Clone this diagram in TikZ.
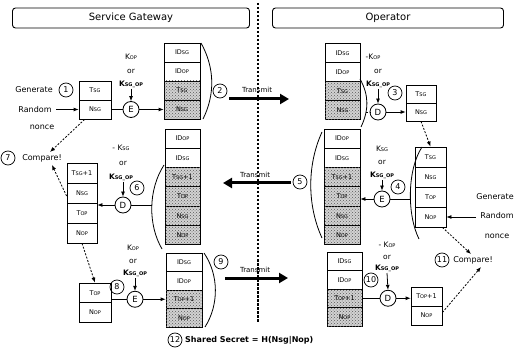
\documentclass[tikz,border=0pt]{standalone}
\usepackage{fontspec}
\setmainfont{DejaVu Sans}
\usetikzlibrary{arrows.meta,patterns}
\newcommand{\sk}[1]{{\fontsize{5}{5}\selectfont #1}}
\tikzset{
  cell/.style={draw, line width=0.8pt, inner sep=0pt, font=\fontsize{6.5}{7}\selectfont},
  hcell/.style={cell, fill=gray!35, postaction={pattern=crosshatch dots, pattern color=black!65}},
  num/.style={circle, draw, line width=0.7pt, minimum size=14pt, inner sep=0pt, font=\fontsize{8}{8}\selectfont},
  opc/.style={circle, draw, line width=0.8pt, minimum size=16pt, inner sep=0pt, font=\fontsize{8.5}{9}\selectfont},
  lbl/.style={inner sep=0pt, font=\fontsize{8}{9}\selectfont},
  keyl/.style={inner sep=0pt, font=\fontsize{7.5}{8}\selectfont},
  hdr/.style={draw, rounded corners=3pt, line width=0.9pt, inner sep=0pt, minimum height=20pt, font=\fontsize{10}{11}\selectfont},
  conn/.style={line width=0.8pt},
  arr/.style={conn, -{Latex[length=5pt,width=4pt]}},
  darr/.style={arr, dash pattern=on 2pt off 1.5pt},
  brk/.style={line width=0.8pt},
  txa/.style={line width=3pt, -{Triangle[length=9pt,width=10pt]}},
  txt/.style={inner sep=0pt, font=\fontsize{7}{8}\selectfont}
}
\begin{document}
\begin{tikzpicture}[x=1pt,y=-1pt]
\useasboundingbox (0,0) rectangle (519,355);

% headers and separator
\node[hdr, minimum width=237pt] (hsg) at (131,18) {Service Gateway};
\node[hdr, minimum width=231pt] (hop) at (388,18) {Operator};
\draw[line width=1.1pt, dash pattern=on 2.5pt off 1.5pt] (258,3) -- (258,322);

% ---------- row 1 left ----------
\node[lbl] (gen1) at (34,90) {Generate};
\node[num] (n1) at (66,90) {1};
\node[lbl] (ran1) at (35,109.5) {Random};
\node[lbl] (non1) at (42,127) {nonce};
\coordinate (r1) at (56,109.5);
\node[cell, minimum width=32pt, minimum height=19pt] (b1a) at (95,90.5) {T\sk{SG}};
\node[cell, minimum width=32pt, minimum height=19pt] (b1b) at (95,109.5) {N\sk{SG}};
\draw[arr] (r1) -- (b1b.west);
\node[opc] (e1) at (131,109.5) {E};
\node[keyl] (k1a) at (131,57) {K\sk{OP}};
\node[keyl] (k1b) at (131,71) {or};
\node[keyl] (k1c) at (131,84) {\bfseries K\sk{SG\_OP}};
\coordinate (k1) at (131,89);
\draw[arr] (k1) -- (e1.north);
\draw[conn] (b1b.east) -- (e1.west);
\node[cell, minimum width=36pt, minimum height=19pt] (s1a) at (182,52.5) {ID\sk{SG}};
\node[cell, minimum width=36pt, minimum height=19pt] (s1b) at (182,71.5) {ID\sk{OP}};
\node[hcell, minimum width=36pt, minimum height=19pt] (s1c) at (182,90.5) {T\sk{SG}};
\node[hcell, minimum width=36pt, minimum height=19pt] (s1d) at (182,109.5) {N\sk{SG}};
\draw[arr] (e1.east) -- (s1d.west);
\draw[brk] (201,43) .. controls (215,68) and (215,95) .. (203,119);
\node[num] (n2) at (220,91) {2};
\node[txt] (tx1) at (257,90) {Transmit};
\coordinate (t1s) at (229,99);
\coordinate (t1e) at (289,99);
\draw[txa] (t1s) -- (t1e);

% ---------- row 1 right ----------
\node[cell, minimum width=35pt, minimum height=19pt] (s3a) at (342.5,53) {ID\sk{SG}};
\node[cell, minimum width=35pt, minimum height=19pt] (s3b) at (342.5,72) {ID\sk{OP}};
\node[hcell, minimum width=35pt, minimum height=19pt] (s3c) at (342.5,91) {T\sk{SG}};
\node[hcell, minimum width=35pt, minimum height=19pt] (s3d) at (342.5,110) {N\sk{SG}};
\draw[brk] (360,79) .. controls (369,95) and (369,110) .. (361,127);
\node[opc] (d1) at (378,112) {D};
\coordinate (br3) at (366,112);
\draw[conn, dash pattern=on 2pt off 1.5pt] (br3) -- (d1.west);
\node[keyl] (k3a) at (373,57) {-K\sk{OP}};
\node[keyl] (k3b) at (378,71) {or};
\node[keyl] (k3c) at (378,84) {\bfseries K\sk{SG\_OP}};
\coordinate (k3) at (378,89);
\draw[arr] (k3) -- (d1.north);
\node[num] (n3) at (395,93) {3};
\node[cell, minimum width=30pt, minimum height=18pt] (b4a) at (421,94) {T\sk{SG}};
\node[cell, minimum width=30pt, minimum height=18pt] (b4b) at (421,112) {N\sk{SG}};
\draw[arr] (d1.east) -- (b4b.west);

% ---------- row 2 right ----------
\node[cell, minimum width=31pt, minimum height=20pt] (b5a) at (430.5,157) {T\sk{SG}};
\node[cell, minimum width=31pt, minimum height=20pt] (b5b) at (430.5,177) {N\sk{SG}};
\node[cell, minimum width=31pt, minimum height=20pt] (b5c) at (430.5,197) {T\sk{OP}};
\node[cell, minimum width=31pt, minimum height=20pt] (b5d) at (430.5,217) {N\sk{OP}};
\draw[darr] (b4b.south) -- (b5a.north);
\draw[brk] (422,147) .. controls (407,170) and (407,215) .. (419,239);
\node[lbl] (gen2) at (495,197) {Generate};
\node[lbl] (ran2) at (497,216) {Random};
\node[lbl] (non2) at (497,236) {nonce};
\coordinate (r2) at (476,217);
\draw[arr] (r2) -- (b5d.east);
\node[opc] (e2) at (382,199) {E};
\coordinate (br5) at (411,199);
\draw[conn] (br5) -- (e2.east);
\node[keyl] (k4a) at (382,149) {K\sk{SG}};
\node[keyl] (k4b) at (382,162) {or};
\node[keyl] (k4c) at (382,175) {\bfseries K\sk{SG\_OP}};
\coordinate (k4) at (382,180);
\draw[arr] (k4) -- (e2.north);
\node[num] (n4) at (398,187) {4};
\node[cell, minimum width=36pt, minimum height=19.3pt] (s4a) at (342,138.6) {ID\sk{OP}};
\node[cell, minimum width=36pt, minimum height=19.3pt] (s4b) at (342,157.9) {ID\sk{SG}};
\node[hcell, minimum width=36pt, minimum height=19.3pt] (s4c) at (342,177.2) {T\sk{SG}+1};
\node[hcell, minimum width=36pt, minimum height=19.3pt] (s4d) at (342,196.5) {T\sk{OP}};
\node[hcell, minimum width=36pt, minimum height=19.3pt] (s4e) at (342,215.8) {N\sk{SG}};
\node[hcell, minimum width=36pt, minimum height=19.3pt] (s4f) at (342,235.1) {N\sk{OP}};
\draw[arr] (e2.west) -- (e2.west -| s4d.east);
\draw[brk] (322,132) .. controls (307,165) and (307,205) .. (322,238);
\node[num] (n5) at (300,182) {5};
\node[txt] (tx2) at (255,175) {Transmit};
\coordinate (t2s) at (291,183);
\coordinate (t2e) at (223,183);
\draw[txa] (t2s) -- (t2e);

% ---------- row 2 left ----------
\node[cell, minimum width=35pt, minimum height=19.3pt] (s2a) at (182.5,138.6) {ID\sk{OP}};
\node[cell, minimum width=35pt, minimum height=19.3pt] (s2b) at (182.5,157.9) {ID\sk{SG}};
\node[hcell, minimum width=35pt, minimum height=19.3pt] (s2c) at (182.5,177.2) {T\sk{SG}+1};
\node[hcell, minimum width=35pt, minimum height=19.3pt] (s2d) at (182.5,196.5) {T\sk{OP}};
\node[hcell, minimum width=35pt, minimum height=19.3pt] (s2e) at (182.5,215.8) {N\sk{SG}};
\node[hcell, minimum width=35pt, minimum height=19.3pt] (s2f) at (182.5,235.1) {N\sk{OP}};
\draw[brk] (164,165) .. controls (148,190) and (148,225) .. (162,249);
\node[opc] (d2) at (123,205) {D};
\coordinate (br2) at (152,205);
\draw[conn] (br2) -- (d2.east);
\node[keyl] (k6a) at (121,148) {- K\sk{SG}};
\node[keyl] (k6b) at (123,163) {or};
\node[keyl] (k6c) at (121,177) {\bfseries K\sk{SG\_OP}};
\coordinate (k6) at (123,182);
\draw[arr] (k6) -- (d2.north);
\node[num] (n6) at (137,188) {6};
\node[cell, minimum width=30pt, minimum height=20pt] (b2a) at (82,173) {T\sk{SG}+1};
\node[cell, minimum width=30pt, minimum height=20pt] (b2b) at (82,193) {N\sk{SG}};
\node[cell, minimum width=30pt, minimum height=20pt] (b2c) at (82,213) {T\sk{OP}};
\node[cell, minimum width=30pt, minimum height=20pt] (b2d) at (82,233) {N\sk{OP}};
\draw[arr] (d2.west) -- (d2.west -| b2c.east);
\node[num] (n7) at (8,158) {7};
\node[lbl] (cmp7) at (42,158) {Compare!};
\draw[darr] ([xshift=6pt]b1b.south west) -- ([xshift=8pt,yshift=2pt]cmp7.north);
\draw[darr] ([yshift=-3pt]b2b.west) -- ([xshift=10pt,yshift=-3pt]cmp7.south);

% ---------- row 3 left ----------
\node[cell, minimum width=32pt, minimum height=19.5pt] (b6a) at (95,292.75) {T\sk{OP}};
\node[cell, minimum width=32pt, minimum height=19.5pt] (b6b) at (95,312.25) {N\sk{OP}};
\draw[darr] (b2d.south) -- (b6a.north);
\node[num] (n8) at (117,287) {8};
\node[opc] (e3) at (135,299.25) {E};
\draw[conn] (e3.west -| b6a.east) -- (e3.west);
\node[keyl] (k8a) at (133,248) {K\sk{OP}};
\node[keyl] (k8b) at (133,261) {or};
\node[keyl] (k8c) at (135,273) {\bfseries K\sk{SG\_OP}};
\coordinate (k8) at (135,278);
\draw[arr] (k8) -- (e3.north);
\node[cell, minimum width=36pt, minimum height=18.5pt] (s6a) at (184,262.25) {ID\sk{SG}};
\node[cell, minimum width=36pt, minimum height=18.5pt] (s6b) at (184,280.75) {ID\sk{OP}};
\node[hcell, minimum width=36pt, minimum height=18.5pt] (s6c) at (184,299.25) {T\sk{OP}+1};
\node[hcell, minimum width=36pt, minimum height=18.5pt] (s6d) at (184,317.75) {N\sk{OP}};
\draw[arr] (e3.east) -- (s6c.west);
\draw[brk] (204,253) .. controls (219,275) and (219,305) .. (205,327);
\node[num] (n9) at (221,262) {9};
\node[txt] (tx3) at (255,270) {Transmit};
\coordinate (t3s) at (225,278);
\coordinate (t3e) at (288,278);
\draw[txa] (t3s) -- (t3e);

% ---------- row 3 right ----------
\node[cell, minimum width=35pt, minimum height=18.5pt] (s5a) at (344.5,261.25) {ID\sk{SG}};
\node[cell, minimum width=35pt, minimum height=18.5pt] (s5b) at (344.5,279.75) {ID\sk{OP}};
\node[hcell, minimum width=35pt, minimum height=18.5pt] (s5c) at (344.5,298.25) {T\sk{OP}+1};
\node[hcell, minimum width=35pt, minimum height=18.5pt] (s5d) at (344.5,316.75) {N\sk{OP}};
\node[opc] (d3) at (388,298.25) {D};
\draw[conn] (s5c.east) -- (d3.west);
\node[keyl] (k10a) at (387,245) {- K\sk{OP}};
\node[keyl] (k10b) at (387,257) {or};
\node[keyl] (k10c) at (387,268) {\bfseries K\sk{SG\_OP}};
\coordinate (k10) at (387,273);
\draw[arr] (k10) -- (d3.north);
\node[num] (n10) at (371,280) {10};
\node[cell, minimum width=31pt, minimum height=19pt] (b7a) at (426.5,296.5) {T\sk{OP}+1};
\node[cell, minimum width=31pt, minimum height=19pt] (b7b) at (426.5,315.5) {N\sk{OP}};
\draw[arr] (d3.east) -- (d3.east -| b7a.west);
\node[num] (n11) at (442,260) {11};
\node[lbl] (cmp11) at (473,260) {Compare!};
\draw[darr] ([xshift=-4pt]b5d.south east) -- ([xshift=-2pt,yshift=2pt]cmp11.north);
\draw[darr] ([yshift=3pt]b7b.east) -- ([xshift=8pt,yshift=-3pt]cmp11.south);

% ---------- shared secret ----------
\node[num] (n12) at (175,340) {12};
\node[lbl, anchor=west, font=\fontsize{8}{9}\selectfont\bfseries] (ss) at (185,340) {Shared Secret = H(Nsg|Nop)};
\end{tikzpicture}
\end{document}
